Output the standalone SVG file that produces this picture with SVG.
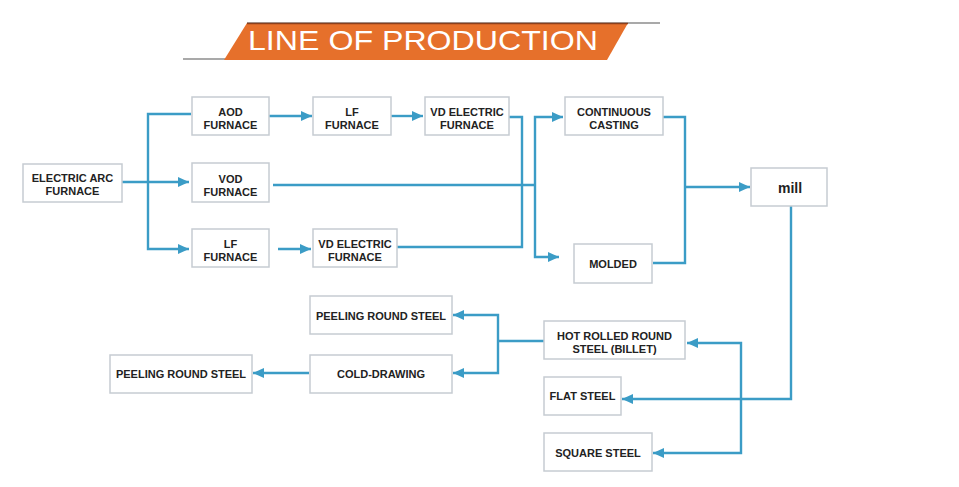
<svg xmlns="http://www.w3.org/2000/svg" width="959" height="487" viewBox="0 0 959 487">
<style>
.box{fill:#fff;stroke:#c6ccd2;stroke-width:1.5}
.t{font-family:"Liberation Sans",Arial,sans-serif;font-weight:700;font-size:11px;fill:#222;text-anchor:middle}
.c{fill:none;stroke:#3b9cc6;stroke-width:2.4}
.a{marker-end:url(#ah)}
</style>
<defs>
<marker id="ah" markerUnits="userSpaceOnUse" markerWidth="11" markerHeight="10" refX="11" refY="5" orient="auto">
<path d="M0,0 L11,5 L0,10 z" fill="#3b9cc6"/>
</marker>
</defs>
<rect width="959" height="487" fill="#fff"/>
<g id="title">
<line x1="247" y1="23" x2="660" y2="23" stroke="#555" stroke-width="1.2"/>
<line x1="183" y1="59" x2="607" y2="59" stroke="#555" stroke-width="1.2"/>
<polygon points="247,23 628,23 607,60 224,60" fill="#e6702b"/>
<line x1="247" y1="23.5" x2="628" y2="23.5" stroke="#8a3f1c" stroke-width="1.5"/>
<text x="248" y="50" font-family="Liberation Sans, Arial, sans-serif" font-size="28" fill="#fff" textLength="350" lengthAdjust="spacingAndGlyphs">LINE OF PRODUCTION</text>
</g>
<g id="connectors">
<path class="c a" d="M122,182 H189"/>
<path class="c a" d="M191,114 H148 V249 H189"/>
<path class="c a" d="M269,116 H312"/>
<path class="c a" d="M391,116 H423"/>
<path class="c a" d="M278,249 H311"/>
<path class="c" d="M509,117 H522 V247 H397"/>
<path class="c" d="M273,185 H535"/>
<path class="c a" d="M535,185 V117 H563"/>
<path class="c a" d="M535,185 V257 H559"/>
<path class="c" d="M663,117 H685 V263 H653"/>
<path class="c a" d="M685,187 H750"/>
<path class="c a" d="M791,206 V399 H622"/>
<path class="c a" d="M741,399 V343 H687"/>
<path class="c a" d="M741,399 V453 H653"/>
<path class="c" d="M544,341 H498"/>
<path class="c a" d="M498,341 V315 H453"/>
<path class="c a" d="M498,341 V373 H453"/>
<path class="c a" d="M309,373 H253"/>
</g>
<g id="eaf"><rect class="box" x="23" y="164" width="99" height="38"/><text class="t" x="72.5" y="182">ELECTRIC ARC<tspan x="72.5" dy="13">FURNACE</tspan></text></g>
<g id="aod"><rect class="box" x="192" y="97" width="77" height="38"/><text class="t" x="230.5" y="116">AOD<tspan x="230.5" dy="13">FURNACE</tspan></text></g>
<g id="vod"><rect class="box" x="192" y="163" width="77" height="39"/><text class="t" x="230.5" y="183">VOD<tspan x="230.5" dy="13">FURNACE</tspan></text></g>
<g id="lf2"><rect class="box" x="192" y="229" width="77" height="38"/><text class="t" x="230.5" y="248">LF<tspan x="230.5" dy="13">FURNACE</tspan></text></g>
<g id="lf1"><rect class="box" x="313" y="97" width="78" height="38"/><text class="t" x="352" y="116">LF<tspan x="352" dy="13">FURNACE</tspan></text></g>
<g id="vd1"><rect class="box" x="425" y="97" width="84" height="38"/><text class="t" x="467" y="116">VD ELECTRIC<tspan x="467" dy="13">FURNACE</tspan></text></g>
<g id="vd2"><rect class="box" x="313" y="229" width="84" height="38"/><text class="t" x="355" y="248">VD ELECTRIC<tspan x="355" dy="13">FURNACE</tspan></text></g>
<g id="cc"><rect class="box" x="565" y="97" width="98" height="38"/><text class="t" x="614" y="116">CONTINUOUS<tspan x="614" dy="13">CASTING</tspan></text></g>
<g id="molded"><rect class="box" x="574" y="244" width="78" height="39"/><text class="t" x="613" y="268">MOLDED</text></g>
<g id="mill"><rect class="box" x="751" y="168" width="76" height="38"/><text class="t" x="790" y="193" style="font-size:14px">mill</text></g>
<g id="peel1"><rect class="box" x="310" y="296" width="142" height="38"/><text class="t" x="381" y="320">PEELING ROUND STEEL</text></g>
<g id="cold"><rect class="box" x="310" y="355" width="142" height="38"/><text class="t" x="381" y="378">COLD-DRAWING</text></g>
<g id="peel2"><rect class="box" x="110" y="355" width="142" height="38"/><text class="t" x="181" y="378">PEELING ROUND STEEL</text></g>
<g id="hot"><rect class="box" x="544" y="321" width="141" height="38"/><text class="t" x="614.5" y="340">HOT ROLLED ROUND<tspan x="614.5" dy="13">STEEL (BILLET)</tspan></text></g>
<g id="flat"><rect class="box" x="544" y="377" width="77" height="38"/><text class="t" x="582.5" y="400">FLAT STEEL</text></g>
<g id="square"><rect class="box" x="544" y="433" width="108" height="38"/><text class="t" x="598" y="457">SQUARE STEEL</text></g>
</svg>
